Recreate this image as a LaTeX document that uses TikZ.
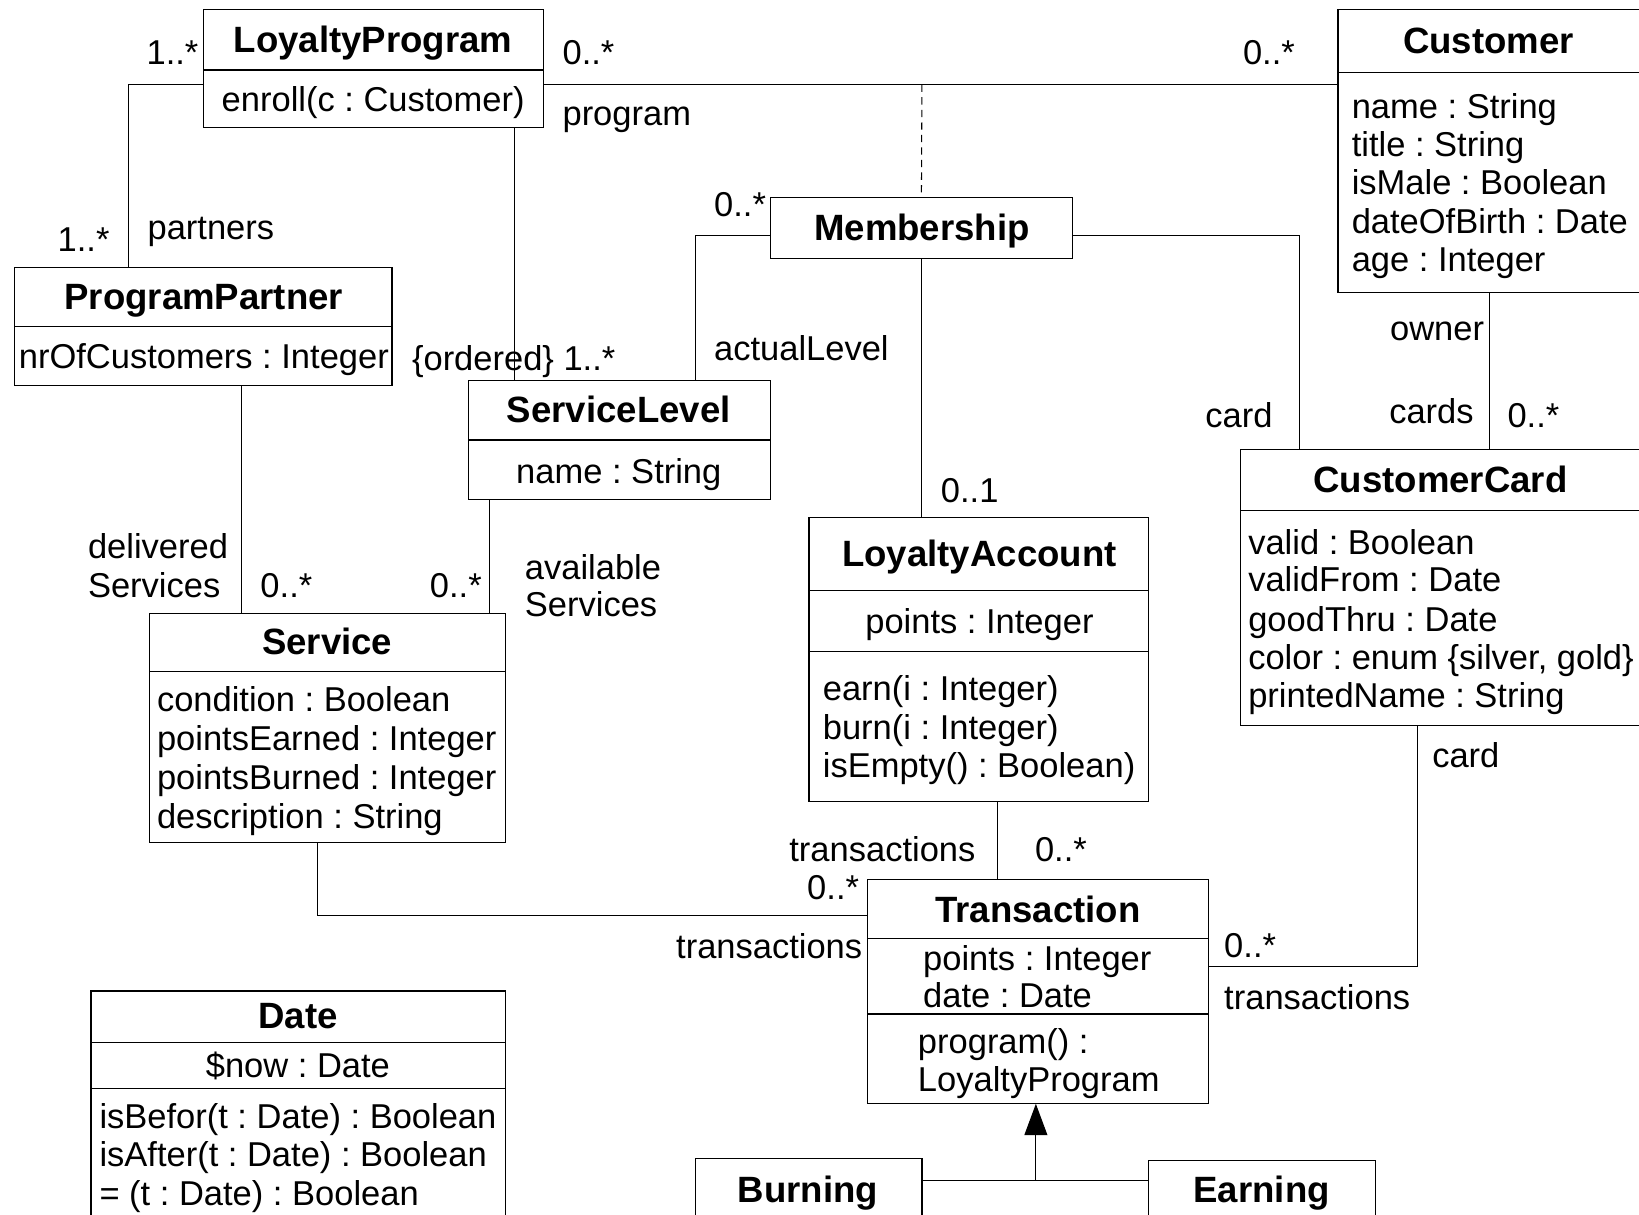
\documentclass[tikz,border=0pt]{standalone}
\usepackage{fontspec}
\setmainfont{Liberation Sans}
\usetikzlibrary{arrows.meta}
\frenchspacing
\begin{document}
\begin{tikzpicture}[x=1pt,y=-1pt,
  cls/.style={draw, line width=1.1pt, inner sep=0pt, outer sep=0pt, anchor=north west},
  divl/.style={line width=1.1pt},
  ttl/.style={font=\fontsize{35}{40}\selectfont\bfseries, anchor=mid, inner sep=0pt, yshift=-7.5pt},
  txt/.style={font=\fontsize{33}{37}\selectfont, inner sep=0pt, anchor=mid, yshift=-7.5pt},
  txtl/.style={txt, anchor=mid west},
  txtr/.style={txt, anchor=mid east},
  assoc/.style={line width=1pt},
  gen/.style={line width=1pt, -{Triangle[length=30pt,width=22pt]}}
]
\useasboundingbox (0,0) rectangle (1568,1162);

% ---------- class boxes ----------
\node[cls, minimum width=325pt, minimum height=113pt] (lp) at (195,9) {};
\node[cls, minimum width=310pt, minimum height=271pt] (cu) at (1280,9) {};
\node[cls, minimum width=361pt, minimum height=113pt] (pp) at (14,256) {};
\node[cls, minimum width=289pt, minimum height=58pt] (ms) at (737,189) {};
\node[cls, minimum width=289pt, minimum height=114pt] (sl) at (448,364) {};
\node[cls, minimum width=341pt, minimum height=219pt] (sv) at (143,587) {};
\node[cls, minimum width=403pt, minimum height=264pt] (cc) at (1187,430) {};
\node[cls, minimum width=325pt, minimum height=272pt] (la) at (774,495) {};
\node[cls, minimum width=326pt, minimum height=215pt] (tr) at (830,841) {};
\node[cls, minimum width=217pt, minimum height=80pt] (bu) at (665,1108) {};
\node[cls, minimum width=217pt, minimum height=80pt] (ea) at (1099,1110) {};
\node[cls, minimum width=397pt, minimum height=240pt] (dt) at (87,948) {};

% ---------- compartment dividers ----------
\draw[divl] (lp.west |- 0,67) -- (lp.east |- 0,67);
\draw[divl] (cu.west |- 0,69) -- (cu.east |- 0,69);
\draw[divl] (pp.west |- 0,312) -- (pp.east |- 0,312);
\draw[divl] (sl.west |- 0,421) -- (sl.east |- 0,421);
\draw[divl] (sv.west |- 0,642) -- (sv.east |- 0,642);
\draw[divl] (cc.west |- 0,488) -- (cc.east |- 0,488);
\draw[divl] (la.west |- 0,565) -- (la.east |- 0,565);
\draw[divl] (la.west |- 0,623) -- (la.east |- 0,623);
\draw[divl] (tr.west |- 0,898) -- (tr.east |- 0,898);
\draw[divl] (tr.west |- 0,970) -- (tr.east |- 0,970);
\draw[divl] (dt.west |- 0,997) -- (dt.east |- 0,997);
\draw[divl] (dt.west |- 0,1041) -- (dt.east |- 0,1041);

% ---------- class texts ----------
\node[ttl] (lpT) at (357,40) {LoyaltyProgram};
\node[txt] (lpO) at (357,97) {enroll(c : Customer)};

\node[ttl] (cuT) at (1424,41) {Customer};
\node[txtl] (cuA1) at (1293,103) {name : String};
\node[txtl] (cuA2) at (1293,140) {title : String};
\node[txtl] (cuA3) at (1293,176) {isMale : Boolean};
\node[txtl] (cuA4) at (1293,213) {dateOfBirth : Date};
\node[txtl] (cuA5) at (1293,250) {age : Integer};

\node[ttl] (msT) at (882,220) {Membership};

\node[ttl] (ppT) at (195,286) {ProgramPartner};
\node[txt] (ppA) at (195,342) {nrOfCustomers : Integer};

\node[ttl] (slT) at (592,394) {ServiceLevel};
\node[txt] (slA) at (592,452) {name : String};

\node[ttl] (svT) at (313,616) {Service};
\node[txtl] (svA1) at (150,671) {condition : Boolean};
\node[txtl] (svA2) at (150,708) {pointsEarned : Integer};
\node[txtl] (svA3) at (150,745) {pointsBurned : Integer};
\node[txtl] (svA4) at (150,782) {description : String};

\node[ttl] (ccT) at (1378,461) {CustomerCard};
\node[txtl] (ccA1) at (1194,520) {valid : Boolean};
\node[txtl] (ccA2) at (1194,556) {validFrom : Date};
\node[txtl] (ccA3) at (1194,594) {goodThru : Date};
\node[txtl] (ccA4) at (1194,630) {color : enum \{silver, gold\}};
\node[txtl] (ccA5) at (1194,667) {printedName : String};

\node[ttl] (laT) at (937,532) {LoyaltyAccount};
\node[txt] (laA) at (937,596) {points : Integer};
\node[txtl] (laO1) at (787,660) {earn(i : Integer)};
\node[txtl] (laO2) at (787,697) {burn(i : Integer)};
\node[txtl] (laO3) at (787,734) {isEmpty() : Boolean)};

\node[ttl] (trT) at (993,872) {Transaction};
\node[txtl] (trA1) at (883,918) {points : Integer};
\node[txtl] (trA2) at (883,954) {date : Date};
\node[txtl] (trO1) at (878,998) {program() :};
\node[txtl] (trO2) at (878,1034) {LoyaltyProgram};

\node[ttl] (buT) at (773,1140) {Burning};
\node[ttl] (eaT) at (1207,1140) {Earning};

\node[ttl] (dtT) at (285,974) {Date};
\node[txt] (dtA) at (285,1021) {\$now : Date};
\node[txtl] (dtO1) at (95,1069) {isBefor(t : Date) : Boolean};
\node[txtl] (dtO2) at (95,1106) {isAfter(t : Date) : Boolean};
\node[txtl] (dtO3) at (95,1143) {= (t : Date) : Boolean};

% ---------- connectors ----------
\draw[assoc] (lp.west |- 0,81) -| (pp.north -| 123,0);
\draw[assoc] (lp.east |- 0,81) -- (cu.west |- 0,81);
\coordinate (amid) at (882,81);
\draw[assoc, dash pattern=on 7pt off 5pt] (amid) -- (ms.north);
\draw[assoc] (ms.west |- 0,225) -| (sl.north -| 665,0);
\draw[assoc] (ms.east |- 0,225) -| (cc.north -| 1243,0);
\draw[assoc] (ms.south) -- (la.north -| ms.south);
\draw[assoc] (lp.south -| 492,0) -- (sl.north -| 492,0);
\draw[assoc] (pp.south -| 231,0) -- (sv.north -| 231,0);
\draw[assoc] (sl.south -| 468,0) -- (sv.north -| 468,0);
\draw[assoc] (sv.south -| 304,0) |- (tr.west |- 0,876);
\draw[assoc] (cu.south -| 1425,0) -- (cc.north -| 1425,0);
\draw[assoc] (cc.south -| 1356,0) |- (tr.east |- 0,925);
\draw[assoc] (la.south -| 954,0) -- (tr.north -| 954,0);
\coordinate (gj) at (991,1129);
\draw[assoc] (bu.east |- gj) -- (ea.west |- gj);
\draw[gen] (gj) -- (tr.south -| gj);

% ---------- association labels ----------
\node[txtr] (l1) at (190,52) {1..*};
\node[txtl] (l2) at (538,52) {0..*};
\node[txtl] (l3) at (538,110) {program};
\node[txtl] (l4) at (1189,52) {0..*};
\node[txtl] (l5) at (55,230) {1..*};
\node[txtl] (l6) at (141,219) {partners};
\node[txtl] (l7) at (394,344) {\{ordered\} 1..*};
\node[txtl] (l8) at (683,197) {0..*};
\node[txtl] (l9) at (683,335) {actualLevel};
\node[txtl] (l10) at (1153,399) {card};
\node[txtr] (l11) at (1420,316) {owner};
\node[txtr] (l12) at (1410,395) {cards};
\node[txtl] (l13) at (1442,399) {0..*};
\node[txtl] (l14) at (900,471) {0..1};
\node[txtl] (l15) at (84,524) {delivered};
\node[txtl] (l16) at (84,561) {Services};
\node[txtl] (l17) at (249,561) {0..*};
\node[txtr] (l18) at (461,561) {0..*};
\node[txtl] (l19) at (502,544) {available};
\node[txtl] (l20) at (502,580) {Services};
\node[txtl] (l21) at (1370,724) {card};
\node[txtl] (l22) at (755,814) {transactions};
\node[txtl] (l23) at (990,814) {0..*};
\node[txtr] (l24) at (822,850) {0..*};
\node[txtr] (l25) at (825,907) {transactions};
\node[txtl] (l26) at (1171,906) {0..*};
\node[txtl] (l27) at (1171,956) {transactions};
\end{tikzpicture}
\end{document}
